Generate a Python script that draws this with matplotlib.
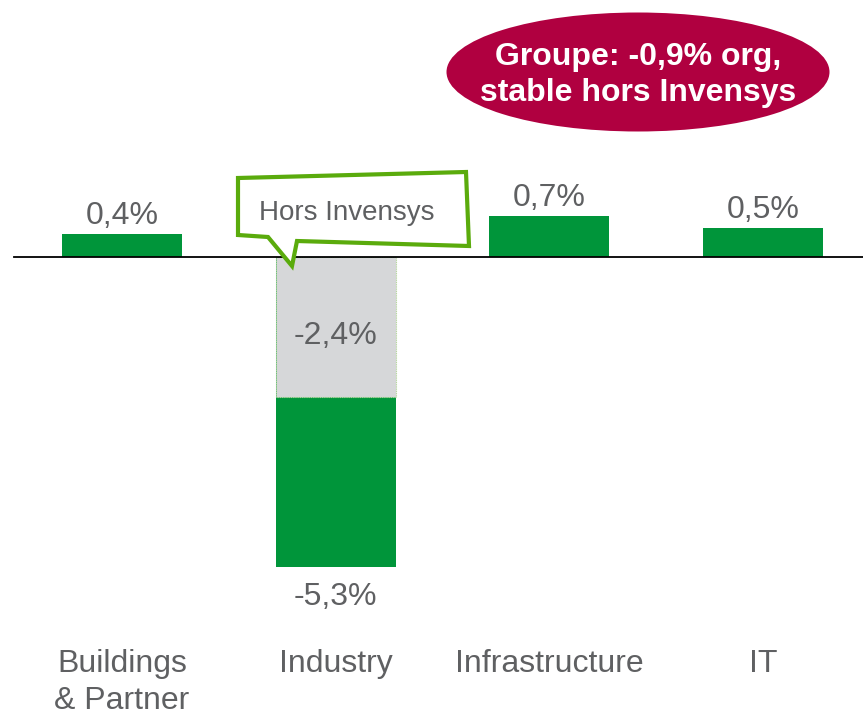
import matplotlib.pyplot as plt
from matplotlib.patches import Ellipse, Polygon

plt.rcParams['font.family'] = ['Liberation Sans', 'DejaVu Sans']

categories = ['Buildings\n& Partner', 'Industry', 'Infrastructure', 'IT']
growth = [0.4, -5.3, 0.7, 0.5]
growth_labels = ['0,4%', '-5,3%', '0,7%', '0,5%']
hors_invensys = -2.4
hors_invensys_label = '-2,4%'

GREEN = '#00953a'
GREY_BAR = '#d6d7d9'
LIME = '#5aab0c'
CRIMSON = '#b00040'
TEXT = '#5f6062'

W, H = 863, 715
fig = plt.figure(figsize=(W / 100, H / 100), dpi=100)
ax = fig.add_axes([0, 0, 1, 1])
ax.axis('off')

# pixel layout: centres 122px apart by 213.67px, zero line at 257px, ~58.5px per %
step = 213.67
px_per_unit = 58.5
ax.set_xlim(-122 / step, (W - 122) / step)
ax.set_ylim(-(H - 257) / px_per_unit, 257 / px_per_unit)

x = list(range(len(categories)))
width = 120 / step
ax.bar(x, growth, width=width, color=GREEN, zorder=2)
ax.bar(x[1], hors_invensys, width=width, color=GREY_BAR, edgecolor='#b5d99a',
       linestyle=(0, (1, 1)), linewidth=0.8, zorder=3)

ax.axhline(0, xmin=14 / W, xmax=1, color='black', linewidth=1.3, zorder=4)

# value labels
for xi, v, lab in zip(x, growth, growth_labels):
    if v >= 0:
        ax.annotate(lab, (xi, v), xytext=(0, 2), textcoords='offset points',
                    ha='center', va='bottom', fontsize=23, color=TEXT)
    else:
        ax.annotate(lab, (xi, v), xytext=(0, -11), textcoords='offset points',
                    ha='center', va='top', fontsize=23, color=TEXT)
ax.annotate(hors_invensys_label, (x[1], hors_invensys / 2), xytext=(0, -6),
            textcoords='offset points', ha='center', va='center',
            fontsize=23, color=TEXT, zorder=5)

# category labels
for xi, cat in zip(x, categories):
    ax.text(xi, 1 - 649 / H, cat, transform=ax.get_xaxis_transform(),
            ha='center', va='top', fontsize=23, color=TEXT, linespacing=1.3)

# callout "Hors Invensys"
callout = [(238, 178), (466, 172), (469, 246), (297, 241), (292, 266),
           (268, 237), (238, 235)]
callout = [(px / W, 1 - py / H) for px, py in callout]
fig.patches.append(Polygon(callout, closed=True, facecolor='white', edgecolor=LIME,
                           linewidth=3, transform=fig.transFigure, zorder=6))
fig.text(347 / W, 1 - 213 / H, 'Hors Invensys', ha='center', va='center',
         fontsize=20, color=TEXT, zorder=7)

# group bubble
fig.patches.append(Ellipse((638 / W, 1 - 72 / H), 383 / W, 119 / H,
                           facecolor=CRIMSON, edgecolor='none',
                           transform=fig.transFigure, zorder=6))
fig.text(638 / W, 1 - 75 / H, 'Groupe: -0,9% org,\nstable hors Invensys',
         ha='center', va='center', fontsize=23, fontweight='bold', color='white',
         linespacing=1.3, zorder=7)

fig.savefig('out.png', dpi=100, facecolor='white')
